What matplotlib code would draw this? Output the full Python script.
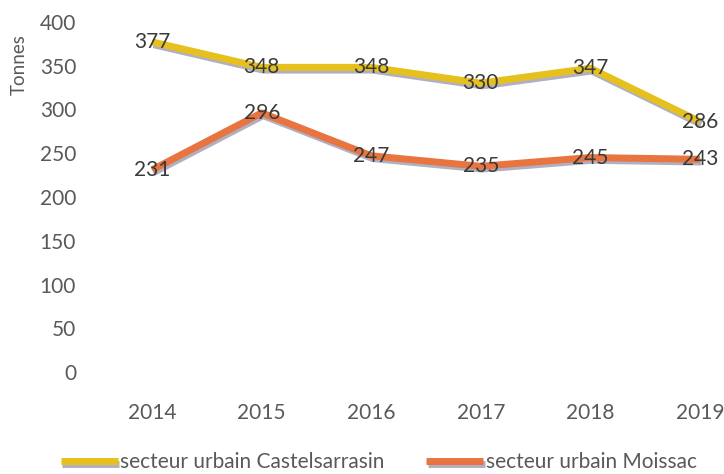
import matplotlib
matplotlib.use("Agg")
import matplotlib.pyplot as plt
import matplotlib.patheffects as pe

# Data
years = ["2014", "2015", "2016", "2017", "2018", "2019"]
castelsarrasin = [377, 348, 348, 330, 347, 286]
moissac = [231, 296, 247, 235, 245, 243]
y_ticks = [0, 50, 100, 150, 200, 250, 300, 350, 400]

YELLOW = "#E6C11E"
ORANGE = "#E8743F"
TICK_GREY = "#595959"
LABEL_DARK = "#3A3A3A"

plt.rcParams["font.family"] = ["Lato", "DejaVu Sans"]

fig = plt.figure(figsize=(7.24, 4.74), dpi=100)
ax = fig.add_axes([0.13, 0.215, 0.87, 0.739])

x = list(range(len(years)))
shadow = [pe.SimpleLineShadow(offset=(1, -2), shadow_color="#6f6f90", alpha=0.55),
          pe.Normal()]

ax.plot(x, castelsarrasin, color=YELLOW, linewidth=5, solid_capstyle="butt",
        path_effects=shadow, label="secteur urbain Castelsarrasin")
ax.plot(x, moissac, color=ORANGE, linewidth=5, solid_capstyle="butt",
        path_effects=shadow, label="secteur urbain Moissac")

# data labels sit centred on the points
for xi, v in zip(x, castelsarrasin):
    ax.text(xi, v, str(v), ha="center", va="center", fontsize=15, color=LABEL_DARK)
for xi, v in zip(x, moissac):
    ax.text(xi, v, str(v), ha="center", va="center", fontsize=15, color=LABEL_DARK)

ax.set_xlim(-0.53, 5.22)
ax.set_ylim(0, 400)
ax.set_yticks(y_ticks)
ax.set_xticks(x)
ax.set_xticklabels(years)
ax.tick_params(axis="y", length=0, pad=13, labelsize=15, labelcolor=TICK_GREY)
ax.tick_params(axis="x", length=0, pad=22, labelsize=15, labelcolor=TICK_GREY)
for s in ax.spines.values():
    s.set_visible(False)

fig.text(0.026, 0.863, "Tonnes", rotation=90, ha="center", va="center",
         fontsize=13.5, color=TICK_GREY)

leg = fig.legend(loc="center", bbox_to_anchor=(0.523, 0.025), ncol=2, frameon=False,
                 fontsize=15, handlelength=2.75, handletextpad=0.1, columnspacing=2.0,
                 borderaxespad=0)
for t in leg.get_texts():
    t.set_color(TICK_GREY)

fig.savefig("out.png", dpi=100)
